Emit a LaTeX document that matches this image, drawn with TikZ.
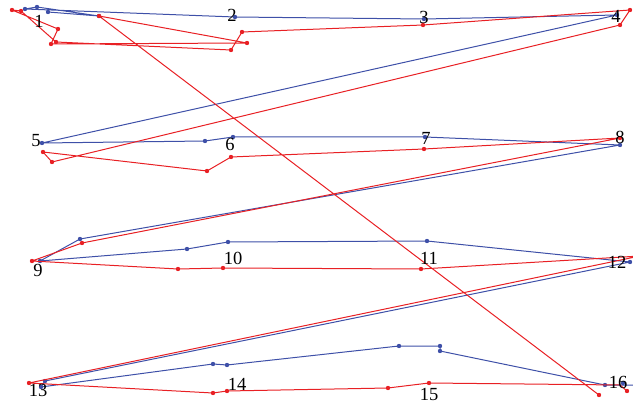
\documentclass[tikz,border=0pt]{standalone}
\usepackage{fontspec}
\setmainfont{Liberation Serif}
\definecolor{rd}{RGB}{232,32,36}
\definecolor{bl}{RGB}{62,80,168}
\begin{document}
\begin{tikzpicture}[x=1pt,y=-1pt,
  redline/.style={draw=rd,line width=1pt,line join=round},
  blueline/.style={draw=bl,line width=1pt,line join=round},
  lbl/.style={font=\fontsize{18.5}{18.5}\selectfont,inner sep=0pt}]
\useasboundingbox (0,0) rectangle (633,404);
% blue path
\def\bluepts{(48,12),(99,16),(37,7),(25,9),(235,17),(424,19),(617,15),(42,143),(205,141),(233,137),(425,137),(620,145),(80,239),(40,261),(187,249),(228,242),(427,241),(630,262),(45,381),(41,387),(213,364),(227,365),(399,346),(440,346),(440,351),(605,385),(623,383)}
\draw[blueline] (48,12) -- (99,16) -- (37,7) -- (25,9) -- (235,17) -- (424,19) -- (617,15) -- (42,143) -- (205,141) -- (233,137) -- (425,137) -- (620,145) -- (80,239) -- (40,261) -- (187,249) -- (228,242) -- (427,241) -- (630,262) -- (45,381) -- (41,387) -- (213,364) -- (227,365) -- (399,346) -- (440,346) -- (440,351) -- (605,385) -- (633,385);
\foreach \p in \bluepts {\fill[bl] \p circle (2.2);}
% red path
\def\redpts{(599,395),(99,16),(247,43),(51,44),(58,29),(12,10),(21,11),(56,42),(231,50),(242,32),(423,25),(630,10),(620,25),(52,162),(43,152),(207,171),(231,157),(424,149),(620,138),(82,243),(32,261),(178,269),(223,268),(421,269),(29,383),(213,393),(227,391),(388,388),(429,383),(627,391)}
\draw[redline] (599,395) -- (99,16) -- (247,43) -- (51,44) -- (58,29) -- (12,10) -- (21,11) -- (56,42) -- (231,50) -- (242,32) -- (423,25) -- (630,10) -- (620,25) -- (52,162) -- (43,152) -- (207,171) -- (231,157) -- (424,149) -- (620,138) -- (82,243) -- (32,261) -- (178,269) -- (223,268) -- (421,269) -- (640,256) -- (29,383) -- (213,393) -- (227,391) -- (388,388) -- (429,383) -- (620,385) -- (627,391);
\foreach \p in \redpts {\fill[rd] \p circle (2.2);}
% labels
\node[lbl] (l1) at (39,21) {1};
\node[lbl] (l2) at (232,15) {2};
\node[lbl] (l3) at (424,17) {3};
\node[lbl] (l4) at (616,16) {4};
\node[lbl] (l5) at (36,141) {5};
\node[lbl] (l6) at (230,144) {6};
\node[lbl] (l7) at (426,138) {7};
\node[lbl] (l8) at (620,137) {8};
\node[lbl] (l9) at (38,270) {9};
\node[lbl] (l10) at (233,258) {10};
\node[lbl] (l11) at (429,258) {11};
\node[lbl] (l12) at (617,262) {12};
\node[lbl] (l13) at (38,390) {13};
\node[lbl] (l14) at (237,384) {14};
\node[lbl] (l15) at (429,394) {15};
\node[lbl] (l16) at (618,382) {16};
\end{tikzpicture}
\end{document}
